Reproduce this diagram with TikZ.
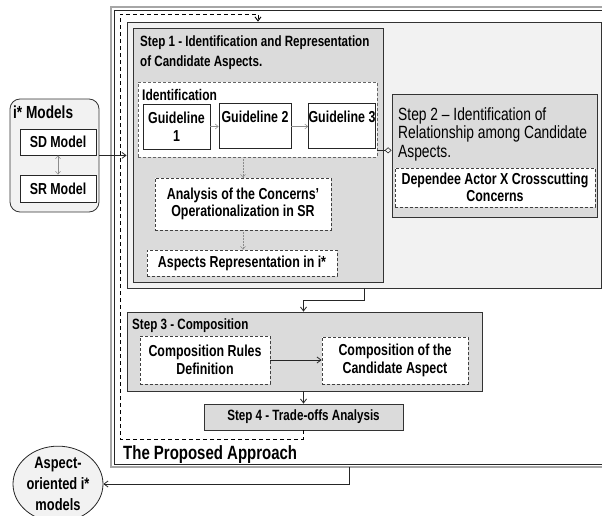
\documentclass[tikz,border=0pt]{standalone}
\usepackage{fontspec}
\setmainfont{Liberation Sans}[FakeStretch=0.78]
\usetikzlibrary{arrows.meta,shapes.geometric}

\definecolor{panelgray}{gray}{0.95}
\definecolor{stepgray}{gray}{0.86}
\definecolor{linkgray}{gray}{0.55}

\newcommand{\stepfont}{\fontsize{14.9}{20}\selectfont\bfseries}
\newcommand{\boxfont}{\fontsize{15.9}{17.5}\selectfont\bfseries}
\newcommand{\apprfont}{\fontsize{19.2}{20}\selectfont\bfseries}
\newcommand{\modelfont}{\fontsize{17.5}{19}\selectfont\bfseries}

\tikzset{
	panel/.style     = {draw=black!80, line width=0.8pt, fill=panelgray, inner sep=0},
	stepbox/.style   = {draw=black!80, line width=0.8pt, fill=stepgray, inner sep=0},
	actbox/.style    = {draw=black!75, line width=0.7pt, dash pattern=on 3pt off 2pt,
		fill=white, inner sep=0, align=center, font=\boxfont},
	guide/.style     = {draw=black!85, line width=0.8pt, fill=white, inner sep=0,
		align=center, font=\boxfont},
	steptitle/.style = {anchor=north west, inner sep=0, align=left, font=\stepfont},
	link/.style      = {draw=linkgray, line width=0.5pt, -{Straight Barb[length=3pt,width=5pt]}},
	flow/.style      = {draw=black!85, line width=0.8pt, ->},
	loopline/.style  = {draw=black, line width=0.9pt, dash pattern=on 4pt off 3pt, ->}
}

\begin{document}
\begin{tikzpicture}[x=1pt, y=-1pt, >={Straight Barb[length=4pt,width=6pt]}]

	\useasboundingbox (0,0) rectangle (602,516);

	% frame of the approach
	\node at (375.5,237.25) [draw=gray!70, line width=2pt, minimum width=529, minimum height=459.5, inner sep=0] (appr) {};
	\node at (377,237.25) [draw=black!85, line width=0.8pt, minimum width=526, minimum height=453.5, inner sep=0] (apprin) {};
	\node at (123,459) [anchor=base west, inner sep=0, font=\apprfont] (apprlabel) {The Proposed Approach};

	% steps 1 and 2
	\node at (364,155) [panel, minimum width=474, minimum height=266] (cont) {};
	\node at (258,155) [stepbox, minimum width=250, minimum height=254] (s1) {};
	\node at (140,36) [steptitle] (s1title) {Step 1 - Identification and Representation\\of Candidate Aspects.};

	\node at (257.5,119.5) [actbox, draw=black!60, minimum width=239, minimum height=75] (ident) {};
	\node at (142,89) [steptitle, font=\fontsize{15.4}{17}\selectfont\bfseries] (identtitle) {Identification};
	\node at (176.5,126.5) [guide, minimum width=67, minimum height=45] (g1) {Guideline\\1};
	\node at (255,125.5) [guide, minimum width=72, minimum height=45] (g2) {Guideline 2\\~};
	\node at (342,125.5) [guide, minimum width=64, minimum height=45] (g3) {Guideline 3\\~};

	\node at (243,204) [actbox, minimum width=176, minimum height=52] (anal) {Analysis of the Concerns'\\Operationalization in SR};
	\node at (242,263) [actbox, minimum width=190, minimum height=26] (asprep) {Aspects Representation in i*};

	\node at (494.5,155.5) [stepbox, minimum width=205, minimum height=123] (s2) {};
	\node at (398,107) [steptitle, font=\fontsize{17.7}{18.5}\selectfont] (s2title) {Step 2 -- Identification of\\Relationship among Candidate\\Aspects.};
	\node at (495,187.5) [actbox, minimum width=200, minimum height=39] (dep) {Dependee Actor X Crosscutting\\Concerns};

	% steps 3 and 4
	\node at (304.5,351.5) [stepbox, minimum width=355, minimum height=79] (s3) {};
	\node at (132,319) [steptitle] (s3title) {Step 3 - Composition};
	\node at (205,360) [actbox, minimum width=130, minimum height=48] (crd) {Composition Rules\\Definition};
	\node at (395,360.5) [actbox, minimum width=146, minimum height=47] (cca) {Composition of the\\Candidate Aspect};
	\node at (303.5,417) [stepbox, minimum width=199, minimum height=26, font=\stepfont] (s4) {Step 4 - Trade-offs Analysis};

	% input and output models
	\node at (54.5,155.5) [panel, rounded corners=10pt, minimum width=89, minimum height=113] (imod) {};
	\node at (13,106) [steptitle, font=\modelfont] (imodtitle) {i* Models};
	\node at (58,142) [guide, minimum width=76, minimum height=26] (sd) {SD Model};
	\node at (58,188.5) [guide, minimum width=76, minimum height=27] (sr) {SR Model};
	\node at (58,484) [ellipse, draw=black!85, line width=0.8pt, fill=panelgray, minimum width=90, minimum height=64,
		inner sep=0, align=center, font=\fontsize{16.5}{21}\selectfont\bfseries] (aoim) {Aspect-\\oriented i*\\models};

	\coordinate (loopsw) at (120,439);
	\coordinate (loopnw) at (120,14);
	\coordinate (outtap) at (349,467);

	% connectors
	\draw[link] (g1.east) -- (g2.west |- g1.east);
	\draw[link] (g2.east |- g1.east) -- (g3.west |- g1.east);
	\draw[link, densely dotted] (ident.south -| anal.north) -- (anal.north);
	\draw[link, densely dotted] (anal.south) -- (asprep.north -| anal.south);
	\draw[draw=black!85, line width=0.6pt, -{Diamond[open,length=7pt,width=6pt]}]
		([yshift=7pt]ident.south east) -- ([yshift=7pt]ident.south east -| s2.west);
	\draw[link, {Straight Barb[length=3pt,width=5pt]}-{Straight Barb[length=3pt,width=5pt]}] (sd) -- (sr);
	\draw[flow] (imod.east |- sd.south) -- (cont.west |- sd.south);
	\draw[flow] (cont.south) -- ++(0,12) -| (s3.north -| s4.north);
	\draw[flow] (crd.east) -- (cca.west |- crd.east);
	\draw[flow] (s3.south -| s4.north) -- (s4.north);
	\draw[loopline] (s4.south) |- (loopsw) -- (loopnw) -| (cont.north -| s1.north);
	\draw[flow] (outtap) |- (aoim.east);

\end{tikzpicture}
\end{document}
